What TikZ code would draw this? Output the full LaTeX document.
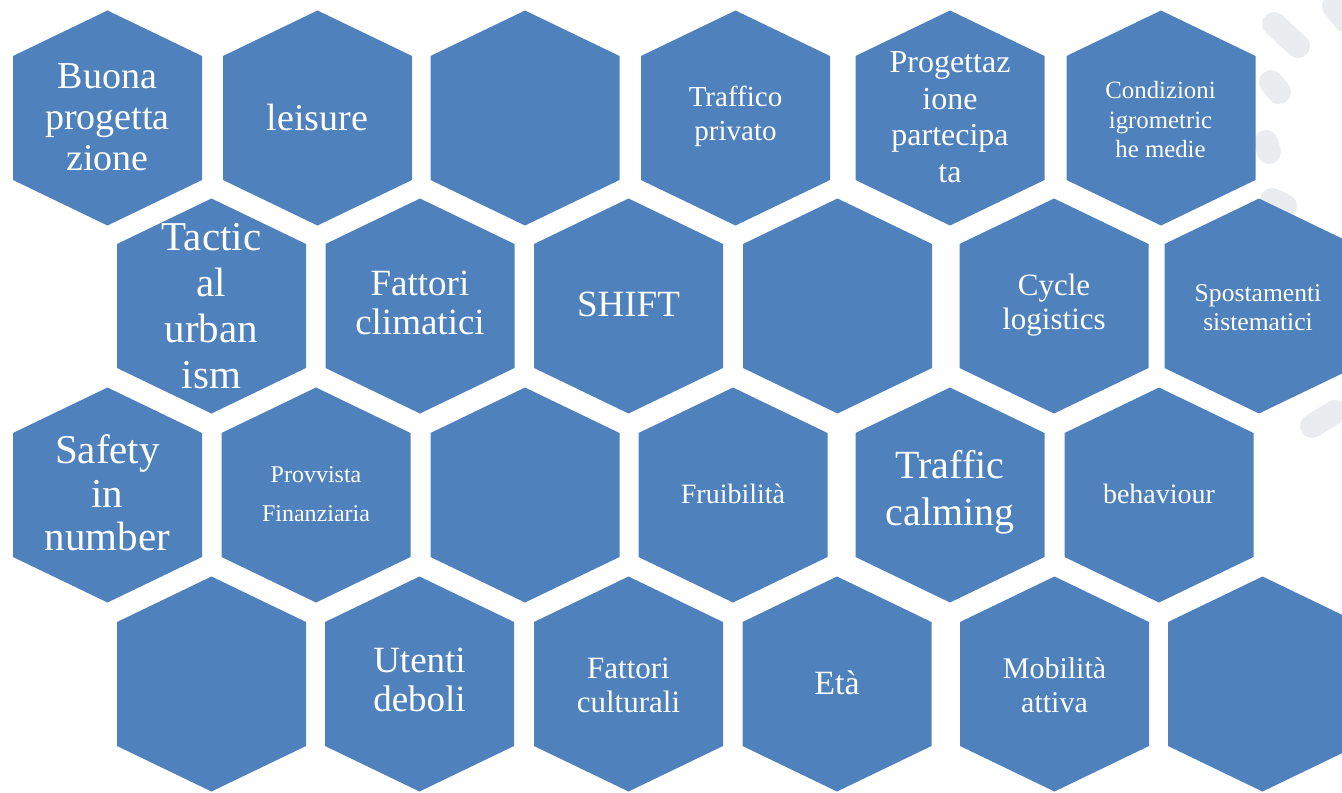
\documentclass[tikz,border=0pt]{standalone}
\usepackage{fontspec}
\setmainfont{Liberation Serif}
\usepackage{xcolor}
\definecolor{hexfill}{HTML}{4F81BD}
\definecolor{decogray}{HTML}{EAECEF}
\tikzset{
  hexcell/.pic    ={\fill[hexfill] (0,-107.5) -- (94.5,-62) -- (94.5,62) -- (0,107.5)
                    -- (-94.5,62) -- (-94.5,-62) -- cycle;},
  hexlabel/.style ={text=white, align=center, inner sep=0pt},
  deco/.style     ={draw=decogray, line width=12pt, line cap=round},
}

\begin{document}
\begin{tikzpicture}[x=0.5pt, y=-0.5pt]
    \useasboundingbox (0,0) rectangle (1342,792);
    % faint marks behind the grid
    \draw[deco] (1274,24) -- (1298,46);
    \draw[deco] (1271,82) -- (1279,92);
    \draw[deco] (1266,142) -- (1269,152);
    \draw[deco] (1272,200) -- (1285,206);
    \draw[deco] (1312,426) -- (1335,412);
    \draw[deco] (1334,6) -- (1345,20);
    % honeycomb
    \foreach \cx/\cy in {107.5/118, 317.5/118, 525/118, 735.5/118, 950/118, 1161/118,
                         211.5/306, 420/306, 628.5/306, 837.5/306, 1054/306, 1259/306,
                         107.5/495, 316/495, 525/495, 733/495, 950/495, 1159/495,
                         211.5/684, 419.5/684, 628.5/684, 837/684, 1054.5/684, 1262.5/684}
      \pic at (\cx,\cy) {hexcell};
    % row 1
    \node[hexlabel, font={\fontsize{19pt}{20.5pt}\selectfont}] (buona) at (107.5,117) {Buona\\progetta\\zione};
    \node[hexlabel, font={\fontsize{19pt}{20.5pt}\selectfont}] (leisure) at (317.5,118) {leisure};
    \node[hexlabel, font={\fontsize{14.5pt}{17pt}\selectfont}] (privato) at (735.5,116) {Traffico\\privato};
    \node[hexlabel, font={\fontsize{16pt}{18.25pt}\selectfont}] (partecipata) at (950,117) {Progettaz\\ione\\partecipa\\ta};
    \node[hexlabel, font={\fontsize{12.4pt}{14.75pt}\selectfont}] (igrometriche) at (1160.5,120) {Condizioni\\igrometric\\he medie};
    % row 2
    \node[hexlabel, font={\fontsize{20.5pt}{23pt}\selectfont}] (tactical) at (211.5,306) {Tactic\\al\\urban\\ism};
    \node[hexlabel, font={\fontsize{18.5pt}{19.5pt}\selectfont}] (climatici) at (420,303) {Fattori\\climatici};
    \node[hexlabel, font={\fontsize{18.5pt}{20pt}\selectfont}] (shift) at (628.5,304) {SHIFT};
    \node[hexlabel, font={\fontsize{15.5pt}{17pt}\selectfont}] (logistics) at (1054,305) {Cycle\\logistics};
    \node[hexlabel, font={\fontsize{12.8pt}{14.5pt}\selectfont}] (sistematici) at (1258,308) {Spostamenti\\sistematici};
    % row 3
    \node[hexlabel, font={\fontsize{20.5pt}{21.75pt}\selectfont}] (safety) at (107.5,493) {Safety\\in\\number};
    \node[hexlabel, font={\fontsize{12pt}{19.5pt}\selectfont}] (provvista) at (316,494) {Provvista\\Finanziaria};
    \node[hexlabel, font={\fontsize{14pt}{16pt}\selectfont}] (fruibilita) at (733,494) {Fruibilità};
    \node[hexlabel, font={\fontsize{20pt}{23.5pt}\selectfont}] (calming) at (950,492) {Traffic\\calming};
    \node[hexlabel, font={\fontsize{14pt}{16pt}\selectfont}] (behaviour) at (1159,494) {behaviour};
    % row 4
    \node[hexlabel, font={\fontsize{18.5pt}{19.5pt}\selectfont}] (deboli) at (419.5,680) {Utenti\\deboli};
    \node[hexlabel, font={\fontsize{15.5pt}{17pt}\selectfont}] (culturali) at (628.5,685) {Fattori\\culturali};
    \node[hexlabel, font={\fontsize{17pt}{19pt}\selectfont}] (eta) at (837,683) {Età};
    \node[hexlabel, font={\fontsize{15pt}{17pt}\selectfont}] (attiva) at (1054.5,685) {Mobilità\\attiva};
\end{tikzpicture}
\end{document}
